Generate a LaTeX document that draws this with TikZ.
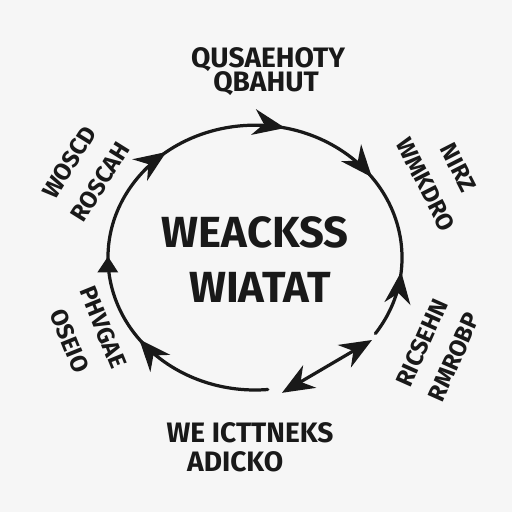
\documentclass[tikz,border=0pt]{standalone}
\usepackage{fontspec}
\setmainfont{Fira Sans}
\usetikzlibrary{arrows.meta, decorations.markings}

\begin{document}
\begin{tikzpicture}[
  marker/.style={line width=2.3pt, black!90, line cap=round},
  ink/.tip={Stealth[length=8mm, width=6.5mm, inset=2.6mm]},
  every node/.style={inner sep=0pt, text=black!90},
  centre/.style={font=\bfseries\fontsize{31}{36}\selectfont},
  heading/.style={font=\bfseries\fontsize{20}{24}\selectfont},
  side/.style={font=\bfseries\fontsize{17}{20}\selectfont, align=center}
]

  % ==========================================
  % 1. FONDO
  % ==========================================
  \fill[gray!7] (0,0) rectangle (12.8,12.8);
  \useasboundingbox (0,0) rectangle (12.8,12.8);

  % ==========================================
  % 2. CICLO (arco abierto con flechas)
  % ==========================================
  \coordinate (ring) at (6.375,6.36);
  \draw[marker, postaction={decorate}, decoration={markings,
      mark=at position 0.09 with {\arrow{ink}},
      mark=at position 0.225 with {\arrowreversed{ink}},
      mark=at position 0.36 with {\arrowreversed{ink}},
      mark=at position 0.525 with {\arrowreversed{ink}},
      mark=at position 0.69 with {\arrowreversed{Triangle[length=4mm, width=5mm]}},
      mark=at position 0.81 with {\arrowreversed{ink}}}]
    (ring) ++(-35:3.675 and 3.31) arc[start angle=-35, end angle=275, x radius=3.675, y radius=3.31];

  % flecha doble (abajo a la derecha)
  \coordinate (dbl-a) at (9.3,4.3);
  \coordinate (dbl-b) at (7.05,2.98);
  \draw[marker, ink-ink] (dbl-a) -- (dbl-b);

  % ==========================================
  % 3. TEXTOS
  % ==========================================
  \node[centre] (hub1) at (6.38,6.98) {WEACKSS};
  \node[centre] (hub2) at (6.5,5.62) {WIATAT};

  \node[heading] (top1) at (6.7,11.3) {QUSAEHOTY};
  \node[heading] (top2) at (6.65,10.72) {QBAHUT};

  \node[heading] (bot1) at (6.25,1.98) {WE ICTTNEKS};
  \node[heading] (bot2) at (5.88,1.25) {ADICKO};

  \node[side, rotate=58] (nw) at (2.12,8.5) {WOSCD\\[6pt]ROSCAH};
  \node[side, rotate=-63] (ne) at (11.05,8.4) {NIRZ\\[6pt]WMKDRO};
  \node[side, rotate=-68] (sw) at (2.16,4.45) {PHVGAE\\[6pt]OSEIO};
  \node[side, rotate=66] (se) at (10.95,4.05) {RICSEHN\\[5pt]RMROBP};

\end{tikzpicture}
\end{document}
